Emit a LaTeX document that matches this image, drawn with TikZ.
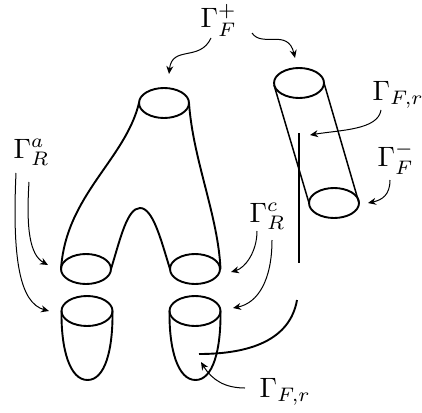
\documentclass[tikz,border=0pt]{standalone}
\usetikzlibrary{arrows.meta}
\tikzset{
  surf/.style={line width=1.9pt,line cap=round},
  side/.style={line width=1.5pt},
  lead/.style={line width=1pt,-{Stealth[length=8pt,width=7pt]}},
  lab/.style={inner sep=0pt,anchor=base west,scale=2.8}
}
\begin{document}
\begin{tikzpicture}[x=1pt,y=-1pt]
\useasboundingbox (0,0) rectangle (422,412);
% labels
\node[lab] (gfp) at (200,28) {$\Gamma_F^+$};
\node[lab] (gfr1) at (372,100) {$\Gamma_{F,r}$};
\node[lab] (gfm) at (377,166) {$\Gamma_F^-$};
\node[lab] (gra) at (13,158) {$\Gamma_R^a$};
\node[lab] (grc) at (249,222) {$\Gamma_R^c$};
\node[lab] (gfr2) at (259,397) {$\Gamma_{F,r}$};
% top ellipse and body
\draw[surf] (164,103) ellipse [x radius=25,y radius=15];
\draw[surf] (139,103) .. controls (125,160) and (66,195) .. (61,269);
\draw[surf] (189,103) .. controls (193,160) and (218,215) .. (220.5,269);
\draw[surf] (111,269) .. controls (120,240) and (127,208) .. (140,208) .. controls (153,208) and (161,240) .. (170,269);
\draw[surf] (86,269) ellipse [x radius=25,y radius=15];
\draw[surf] (195,269) ellipse [x radius=25,y radius=15];
% cups
\draw[surf] (87,311) ellipse [x radius=25.5,y radius=15];
\draw[surf] (61.5,311) .. controls (61,350) and (70,380) .. (87.5,380) .. controls (105,380) and (113,350) .. (112.5,311);
\draw[surf] (195,311) ellipse [x radius=25.5,y radius=15];
\draw[surf] (169.5,311) .. controls (169,350) and (178,380) .. (195.5,380) .. controls (213,380) and (221,350) .. (220.5,311);
% cylinder
\draw[surf] (299,83) ellipse [x radius=25,y radius=15];
\draw[surf] (334,203) ellipse [x radius=25,y radius=15];
\draw[side] (274,85) -- (309,203);
\draw[side] (324,83) -- (359,203);
% cut
\draw[surf,line cap=butt] (299,133) -- (299,263);
\draw[surf,line cap=butt] (297,300) .. controls (290,340) and (250,354) .. (199,354);
% leaders
\coordinate (a1) at (211,38);
\coordinate (a2) at (169,74);
\coordinate (b1) at (252,33);
\coordinate (b2) at (295,58);
\coordinate (c1) at (381,110);
\coordinate (c2) at (310,135);
\coordinate (d1) at (390,180);
\coordinate (d2) at (368,203);
\coordinate (e1) at (16,173);
\coordinate (e2) at (49,311);
\coordinate (f1) at (29,182);
\coordinate (f2) at (48,265);
\coordinate (g1) at (257,231);
\coordinate (g2) at (231,272);
\coordinate (h1) at (272,240);
\coordinate (h2) at (233,308);
\coordinate (i1) at (245,388);
\coordinate (i2) at (201,362);
\draw[lead] (a1) .. controls (200,62) and (172,45) .. (a2);
\draw[lead] (b1) .. controls (262,48) and (288,28) .. (b2);
\draw[lead] (c1) .. controls (378,130) and (340,130) .. (c2);
\draw[lead] (d1) .. controls (390,195) and (382,200) .. (d2);
\draw[lead] (e1) .. controls (12,260) and (20,303) .. (e2);
\draw[lead] (f1) .. controls (26,230) and (30,255) .. (f2);
\draw[lead] (g1) .. controls (257,252) and (245,268) .. (g2);
\draw[lead] (h1) .. controls (272,280) and (258,303) .. (h2);
\draw[lead] (i1) .. controls (225,388) and (212,380) .. (i2);
\end{tikzpicture}
\end{document}
